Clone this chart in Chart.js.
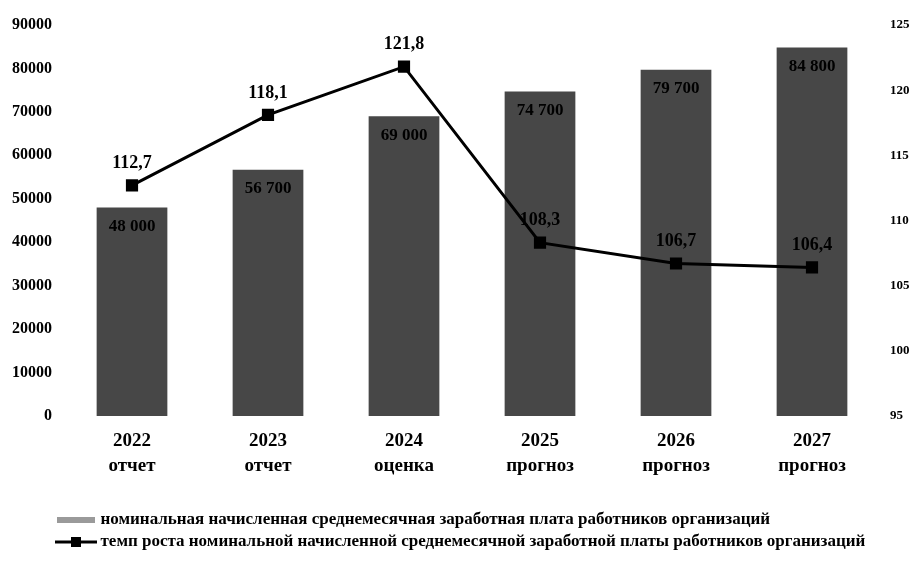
<!DOCTYPE html>
<html>
<head>
<meta charset="utf-8">
<script src="https://cdn.jsdelivr.net/npm/chart.js@4"></script>
<style>
  html, body { margin: 0; padding: 0; background: #fff; }
  #wrap { width: 921px; height: 564px; }
</style>
</head>
<body>
<div id="wrap"><canvas id="myChart"></canvas></div>
<script>
const years = ['2022', '2023', '2024', '2025', '2026', '2027'];
const kinds = ['отчет', 'отчет', 'оценка', 'прогноз', 'прогноз', 'прогноз'];
const wages = [48000, 56700, 69000, 74700, 79700, 84800];
const growth = [112.7, 118.1, 121.8, 108.3, 106.7, 106.4];
const wageName = 'номинальная начисленная среднемесячная заработная плата работников организаций';
const growthName = 'темп роста номинальной начисленной среднемесячной заработной платы работников организаций';

const serif = 'Liberation Serif';

// legend symbols
const barSwatch = document.createElement('canvas');
barSwatch.width = 38; barSwatch.height = 6;
let g = barSwatch.getContext('2d');
g.fillStyle = '#9a9a9a';
g.fillRect(0, 0, 38, 6);

const lineSwatch = document.createElement('canvas');
lineSwatch.width = 42; lineSwatch.height = 10;
g = lineSwatch.getContext('2d');
g.fillStyle = '#000';
g.fillRect(0, 4, 42, 3);
g.fillRect(16, 0, 10, 10);

const valueLabels = {
  id: 'valueLabels',
  afterLayout(chart) {
    // legend starts under the plot, not at the canvas edge
    chart.legend.left = 55;
  },
  afterDatasetsDraw(chart) {
    const ctx = chart.ctx;
    ctx.save();
    ctx.fillStyle = '#000';
    ctx.textAlign = 'center';
    ctx.textBaseline = 'middle';
    chart.getDatasetMeta(1).data.forEach((bar, i) => {
      ctx.font = 'bold 17px ' + serif;
      ctx.fillText(wages[i].toLocaleString('ru-RU'), bar.x, bar.y + 19);
    });
    chart.getDatasetMeta(0).data.forEach((pt, i) => {
      ctx.font = 'bold 18px ' + serif;
      ctx.fillText(growth[i].toFixed(1).replace('.', ','), pt.x, pt.y - 22);
    });
    ctx.restore();
  }
};

const weeklyChart = new Chart(document.getElementById('myChart'), {
  type: 'bar',
  data: {
    labels: years.map((y, i) => [y, kinds[i]]),
    datasets: [
      {
        type: 'line',
        label: growthName,
        data: growth,
        yAxisID: 'y1',
        borderColor: '#000',
        backgroundColor: '#000',
        borderWidth: 3,
        pointStyle: 'rect',
        pointRadius: 6.5,
        pointBackgroundColor: '#000',
        pointBorderColor: '#000',
        tension: 0,
      },
      {
        label: wageName,
        data: wages,
        yAxisID: 'y',
        backgroundColor: '#474747',
        barPercentage: 0.52,
        categoryPercentage: 1,
      },
    ],
  },
  options: {
    responsive: true,
    maintainAspectRatio: false,
    animation: false,
    layout: { padding: { top: 25, left: 0, right: 0, bottom: 4 } },
    plugins: {
      tooltip: { enabled: false },
      legend: {
        position: 'bottom',
        align: 'start',
        labels: {
          color: '#000',
          font: { family: serif, size: 17, weight: 'bold' },
          padding: 5,
          usePointStyle: true,
          pointStyleWidth: 32,
          generateLabels: () => [
            { text: wageName, pointStyle: barSwatch, fillStyle: '#9a9a9a', strokeStyle: '#9a9a9a', lineWidth: 0, datasetIndex: 1 },
            { text: growthName, pointStyle: lineSwatch, fillStyle: '#000', strokeStyle: '#000', lineWidth: 0, datasetIndex: 0 },
          ],
        },
      },
    },
    scales: {
      x: {
        grid: { display: false, drawTicks: false },
        border: { display: false },
        ticks: {
          color: '#000',
          padding: 12,
          font: { family: serif, size: 19, weight: 'bold', lineHeight: 1.35 },
        },
        afterFit: (scale) => { scale.height = 90; },
      },
      y: {
        position: 'left',
        min: 0,
        max: 90000,
        grid: { display: false, drawTicks: false },
        border: { display: false },
        ticks: {
          stepSize: 10000,
          color: '#000',
          padding: 12,
          font: { family: serif, size: 16, weight: 'bold' },
          callback: (v) => String(v),
        },
        afterFit: (scale) => { scale.width = 64; },
      },
      y1: {
        position: 'right',
        min: 95,
        max: 125,
        grid: { display: false, drawTicks: false },
        border: { display: false },
        ticks: {
          stepSize: 5,
          color: '#000',
          padding: 10,
          font: { family: serif, size: 13, weight: 'bold' },
        },
        afterFit: (scale) => { scale.width = 41; },
      },
    },
  },
  plugins: [valueLabels],
});
</script>
</body>
</html>
